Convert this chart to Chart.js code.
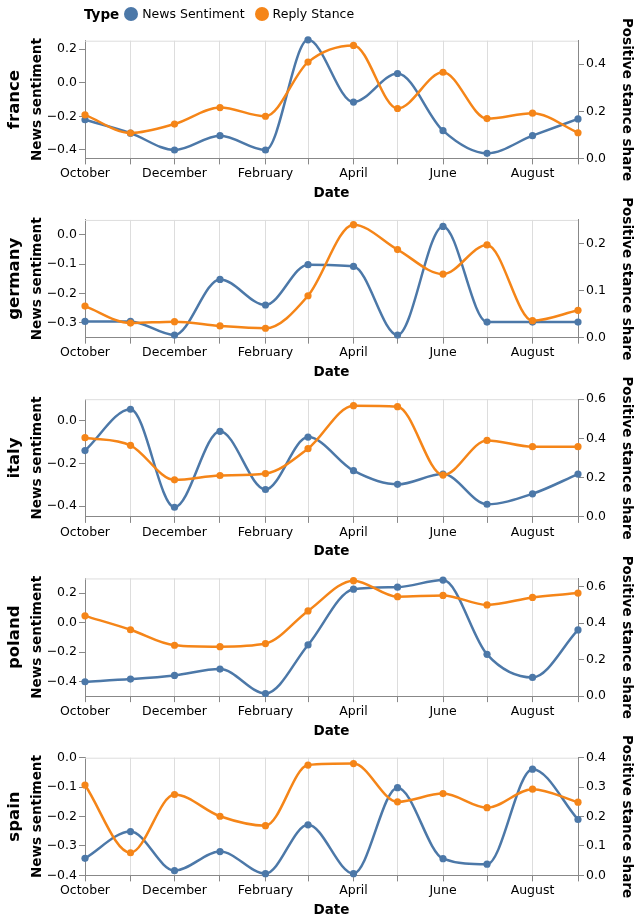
<!DOCTYPE html>
<html>
<head>
<meta charset="utf-8">
<title>News sentiment vs reply stance</title>
<script src="https://cdn.jsdelivr.net/npm/chart.js@4.4.0/dist/chart.umd.min.js"></script>
<style>
  body { margin: 0; background: #fff; font-family: 'DejaVu Sans', sans-serif; }
  #wrap { position: relative; width: 634px; height: 922px; }
  #wrap canvas { position: absolute; left: 0; top: 0; }
  #legend { position: absolute; left: 84px; top: 4px; height: 19px; display: flex; align-items: center; font-size: 12.5px; color: #000; z-index: 10; }
  #legend b { font-size: 13.5px; margin-right: 5px; }
  #legend i { display: inline-block; width: 14px; height: 14px; border-radius: 50%; margin-right: 4px; }
  #legend span { margin-right: 10px; }
</style>
</head>
<body>
<div id="wrap">
  <div id="legend">
    <b>Type</b><i style="background:#4c78a8"></i><span>News Sentiment</span><i style="background:#f58518"></i><span>Reply Stance</span>
  </div>
</div>
<script>
// --- 1. DATOS ---
// Primer día de cada mes (eje X temporal)
const months = ['2023-10-01', '2023-11-01', '2023-12-01', '2024-01-01', '2024-02-01', '2024-03-01',
                '2024-04-01', '2024-05-01', '2024-06-01', '2024-07-01', '2024-08-01', '2024-09-01'];
const monthNames = ['October', 'November', 'December', 'January', 'February', 'March',
                    'April', 'May', 'June', 'July', 'August', 'September'];

const countries = ['france', 'germany', 'italy', 'poland', 'spain'];

// News sentiment (eje izquierdo)
const franceSentiment  = [-0.22, -0.30, -0.40, -0.315, -0.40, 0.255, -0.115, 0.055, -0.285, -0.42, -0.315, -0.215];
const germanySentiment = [-0.295, -0.295, -0.341, -0.152, -0.239, -0.102, -0.108, -0.341, 0.028, -0.297, -0.297, -0.297];
const italySentiment   = [-0.14, 0.053, -0.405, -0.05, -0.322, -0.077, -0.234, -0.298, -0.25, -0.391, -0.342, -0.25];
const polandSentiment  = [-0.402, -0.384, -0.359, -0.316, -0.482, -0.152, 0.227, 0.241, 0.289, -0.216, -0.373, -0.05];
const spainSentiment   = [-0.342, -0.251, -0.384, -0.319, -0.394, -0.228, -0.394, -0.102, -0.343, -0.362, -0.039, -0.21];

// Positive stance share (eje derecho)
const franceStance  = [0.185, 0.108, 0.146, 0.216, 0.179, 0.409, 0.48, 0.212, 0.366, 0.169, 0.192, 0.109];
const germanyStance = [0.067, 0.031, 0.034, 0.025, 0.020, 0.089, 0.240, 0.187, 0.135, 0.197, 0.036, 0.058];
const italyStance   = [0.404, 0.365, 0.189, 0.211, 0.221, 0.348, 0.567, 0.562, 0.213, 0.39, 0.358, 0.358];
const polandStance  = [0.44, 0.364, 0.279, 0.271, 0.288, 0.467, 0.633, 0.545, 0.552, 0.50, 0.541, 0.565];
const spainStance   = [0.307, 0.077, 0.275, 0.201, 0.169, 0.375, 0.380, 0.25, 0.278, 0.23, 0.293, 0.249];

const sentimentSeries = [franceSentiment, germanySentiment, italySentiment, polandSentiment, spainSentiment];
const stanceSeries = [franceStance, germanyStance, italyStance, polandStance, spainStance];

// Rangos y ticks de cada eje
const sentimentRange = [[-0.45, 0.25], [-0.35, 0.05], [-0.45, 0.1], [-0.5, 0.3], [-0.4, 0.0]];
const sentimentTicks = [[-0.4, -0.2, 0, 0.2], [-0.3, -0.2, -0.1, 0], [-0.4, -0.2, 0], [-0.4, -0.2, 0, 0.2], [-0.4, -0.3, -0.2, -0.1, 0]];
const stanceRange = [[0, 0.5], [0, 0.25], [0, 0.6], [0, 0.645], [0, 0.4]];
const stanceTicks = [[0, 0.2, 0.4], [0, 0.1, 0.2], [0, 0.2, 0.4, 0.6], [0, 0.2, 0.4, 0.6], [0, 0.1, 0.2, 0.3, 0.4]];

// --- 2. CONSTANTES DE ESTILO / LAYOUT ---
const BLUE = '#4c78a8';
const ORANGE = '#f58518';
const W = 634, H = 922;
const PANEL_TOP = 40.7, PANEL_STEP = 179.25, PLOT_H = 117.7;
const X_AXIS_H = 44, LEFT_W = 85, RIGHT_W = 56;

Chart.defaults.font.family = "'DejaVu Sans', sans-serif";
Chart.defaults.font.size = 12.5;
Chart.defaults.color = '#000';

const dayOffset = d => Math.round((Date.parse(d) - Date.parse(months[0])) / 86400000);
const xValues = months.map(dayOffset);
const toPoints = vals => vals.map((v, i) => ({ x: xValues[i], y: v }));
const fmt = v => (v < -1e-9 ? '\u2212' : '') + Math.abs(v).toFixed(1);

// Plugin: borde superior y títulos verticales (país y ejes Y)
const panelText = {
  id: 'panelText',
  beforeDatasetsDraw(chart) {
    const { ctx, chartArea } = chart;
    ctx.save();
    ctx.strokeStyle = '#ddd';
    ctx.lineWidth = 1;
    ctx.beginPath();
    ctx.moveTo(chartArea.left, chartArea.top + 0.5);
    ctx.lineTo(chartArea.right, chartArea.top + 0.5);
    ctx.stroke();
    ctx.restore();
  },
  afterDraw(chart, args, opts) {
    const { ctx, chartArea } = chart;
    const mid = (chartArea.top + chartArea.bottom) / 2;
    const vtext = (text, x, rot, font) => {
      ctx.save();
      ctx.translate(x, mid);
      ctx.rotate(rot);
      ctx.font = font;
      ctx.fillStyle = '#000';
      ctx.textAlign = 'center';
      ctx.textBaseline = 'middle';
      ctx.fillText(text, 0, 0);
      ctx.restore();
    };
    vtext(opts.row, 15, -Math.PI / 2, "bold 16.5px 'DejaVu Sans'");
    vtext('News sentiment', 37, -Math.PI / 2, "bold 13.5px 'DejaVu Sans'");
    vtext('Positive stance share', 626, Math.PI / 2, "bold 13.5px 'DejaVu Sans'");
  }
};

// --- 3. UN GRÁFICO POR PAÍS ---
const wrap = document.getElementById('wrap');

countries.forEach((country, i) => {
  const canvas = document.createElement('canvas');
  canvas.width = W;
  canvas.height = H;
  wrap.appendChild(canvas);

  const top = PANEL_TOP + i * PANEL_STEP;
  const bottom = top + PLOT_H;

  new Chart(canvas, {
    type: 'line',
    data: {
      datasets: [
        {
          label: 'Reply Stance',
          data: toPoints(stanceSeries[i]),
          yAxisID: 'y1',
          borderColor: ORANGE,
          backgroundColor: ORANGE,
          order: 0
        },
        {
          label: 'News Sentiment',
          data: toPoints(sentimentSeries[i]),
          yAxisID: 'y',
          borderColor: BLUE,
          backgroundColor: BLUE,
          order: 1
        }
      ]
    },
    options: {
      responsive: false,
      animation: false,
      events: [],
      layout: { padding: { top: top, bottom: H - bottom - X_AXIS_H, left: 0, right: 0 } },
      datasets: { line: { clip: false, cubicInterpolationMode: 'monotone', fill: false } },
      elements: {
        line: { borderWidth: 2.5 },
        point: { radius: 3.6, borderWidth: 0, hoverRadius: 3.6 }
      },
      plugins: {
        legend: { display: false },
        tooltip: { enabled: false },
        panelText: { row: country }
      },
      scales: {
        x: {
          type: 'linear',
          min: xValues[0],
          max: xValues[xValues.length - 1],
          afterBuildTicks: s => { s.ticks = xValues.map(v => ({ value: v })); },
          afterFit: s => { s.height = X_AXIS_H; },
          grid: { color: '#ddd', tickColor: '#888', tickLength: 6 },
          border: { color: '#888' },
          ticks: {
            autoSkip: false, maxRotation: 0, minRotation: 0, padding: 2,
            callback: (v, idx) => (idx % 2 === 0 ? monthNames[idx] : '')
          },
          title: {
            display: true, text: 'Date', color: '#000',
            font: { size: 13.5, weight: 'bold' },
            padding: { top: 0, bottom: 1 }
          }
        },
        y: {
          position: 'left',
          min: sentimentRange[i][0],
          max: sentimentRange[i][1],
          afterBuildTicks: s => { s.ticks = sentimentTicks[i].map(v => ({ value: v })); },
          afterFit: s => { s.width = LEFT_W; },
          grid: { drawOnChartArea: false, tickColor: '#888', tickLength: 6 },
          border: { color: '#888' },
          ticks: { padding: 2, callback: v => fmt(v) }
        },
        y1: {
          position: 'right',
          min: stanceRange[i][0],
          max: stanceRange[i][1],
          afterBuildTicks: s => { s.ticks = stanceTicks[i].map(v => ({ value: v })); },
          afterFit: s => { s.width = RIGHT_W; },
          grid: { drawOnChartArea: false, tickColor: '#888', tickLength: 6 },
          border: { color: '#888' },
          ticks: { padding: 2, callback: v => fmt(v) }
        }
      }
    },
    plugins: [panelText]
  });
});
</script>
</body>
</html>
